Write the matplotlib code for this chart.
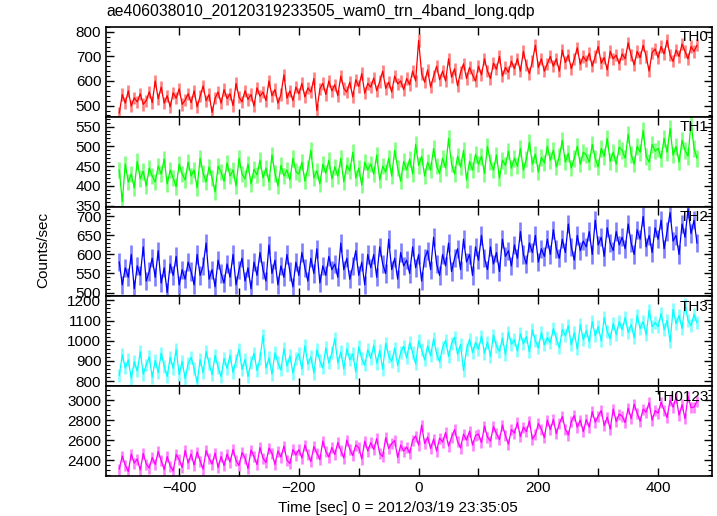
import numpy as np
import matplotlib
matplotlib.use("Agg")
from matplotlib import pyplot as plt
from matplotlib.ticker import MultipleLocator
from matplotlib.colors import to_rgb

plt.rcParams['font.family'] = ['Liberation Sans', 'DejaVu Sans']

# time (sec), 5 s bins from -500 to 465
t = np.arange(-500, 466, 5)

# rates read (roughly) off the light curves, counts/sec, one row = 60 s
th0 = [470, 545, 510, 560, 498, 532, 515, 548, 505, 520, 556, 512,
       600, 528, 575, 510, 540, 495, 552, 530, 568, 505, 522, 548,
       512, 560, 495, 538, 580, 520, 545, 472, 530, 555, 510, 565,
       528, 548, 500, 590, 535, 515, 560, 525, 545, 498, 572, 538,
       555, 520, 600, 540, 565, 510, 545, 625, 530, 560, 520, 575,
       548, 590, 535, 572, 555, 610, 480, 568, 590, 545, 600, 560,
       585, 540, 620, 570, 555, 595, 535, 605, 578, 630, 550, 590,
       575, 612, 560, 598, 640, 570, 595, 555, 620, 588, 600, 565,
       610, 585, 640, 600, 765, 630, 595, 645, 575, 620, 660, 605,
       640, 600, 690, 615, 650, 580, 635, 670, 610, 655, 625, 600,
       660, 625, 690, 640, 610, 672, 648, 700, 620, 655, 635, 680,
       650, 690, 640, 720, 665, 630, 680, 745, 655, 690, 640, 670,
       700, 660, 690, 640, 725, 675, 705, 650, 690, 735, 668, 700,
       680, 712, 660, 700, 740, 672, 695, 645, 720, 690, 705, 670,
       710, 690, 755, 705, 665, 720, 695, 745, 700, 640, 715, 730,
       695, 740, 710, 765, 705, 680, 725, 700, 750, 720, 690, 740,
       720, 745]
th1 = [440, 360, 455, 410, 430, 395, 462, 418, 437, 400, 445, 425,
       410, 450, 430, 468, 405, 440, 420, 398, 455, 430, 415, 460,
       425, 440, 395, 470, 432, 410, 448, 420, 385, 450, 435, 412,
       458, 425, 440, 400, 470, 430, 418, 455, 405, 442, 428, 465,
       420, 445, 410, 478, 432, 400, 452, 425, 440, 415, 470, 436,
       430, 460, 412, 445, 490, 420, 438, 405, 455, 432, 465, 418,
       448, 425, 470, 410, 452, 438, 485, 420, 445, 402, 460, 440,
       455, 430, 478, 415, 450, 435, 470, 425, 490, 445, 412, 462,
       440, 468, 430, 505, 452, 475, 425, 460, 440, 495, 450, 432,
       470, 445, 520, 455, 430, 475, 448, 490, 415, 462, 440, 480,
       455, 475, 432, 500, 460, 440, 478, 420, 465, 452, 488, 445,
       470, 450, 495, 440, 468, 510, 455, 480, 435, 472, 458, 500,
       465, 490, 448, 475, 515, 460, 482, 445, 470, 500, 455, 485,
       478, 460, 505, 470, 448, 495, 475, 520, 462, 485, 455, 498,
       490, 470, 530, 480, 455, 500, 485, 540, 475, 460, 505, 488,
       495, 470, 520, 485, 545, 478, 500, 460, 515, 490, 475, 560,
       495, 470]
th2 = [580, 520, 565, 540, 600, 510, 570, 545, 620, 530, 555, 590,
       540, 610, 525, 565, 500, 575, 545, 595, 520, 560, 535, 580,
       555, 520, 600, 545, 570, 630, 535, 560, 515, 585, 550, 525,
       575, 540, 600, 520, 560, 590, 530, 565, 510, 580, 545, 605,
       560, 530, 625, 550, 585, 520, 570, 540, 600, 555, 515, 580,
       545, 605, 565, 530, 590, 550, 615, 525, 570, 545, 595, 560,
       575, 540, 630, 560, 590, 535, 570, 610, 545, 580, 520, 600,
       565, 600, 540, 620, 575, 550, 640, 560, 590, 535, 605, 570,
       585, 550, 620, 565, 600, 530, 590, 610, 560, 645, 575, 545,
       600, 570, 630, 555, 590, 615, 560, 640, 580, 600, 545, 620,
       585, 650, 590, 560, 620, 575, 605, 555, 640, 595, 610, 570,
       625, 590, 660, 600, 575, 630, 605, 650, 580, 615, 595, 640,
       600, 665, 615, 590, 640, 605, 680, 620, 585, 650, 610, 635,
       620, 660, 600, 690, 625, 645, 595, 670, 630, 610, 660, 625,
       645, 615, 680, 630, 600, 665, 640, 700, 620, 650, 605, 670,
       640, 690, 615, 660, 710, 635, 650, 600, 680, 645, 720, 655,
       690, 630]
th3 = [830, 930, 865, 905, 815, 895, 850, 945, 835, 880, 920, 820,
       903, 843, 938, 873, 823, 918, 863, 958, 833, 898, 813, 888,
       917, 862, 792, 907, 842, 947, 887, 832, 927, 867, 822, 912,
       863, 928, 843, 903, 958, 858, 908, 823, 893, 938, 853, 913,
       1025, 865, 915, 835, 940, 890, 855, 960, 875, 925, 840, 910,
       935, 860, 975, 885, 920, 840, 955, 900, 865, 965, 890, 940,
       1010, 890, 945, 860, 960, 905, 935, 845, 970, 910, 880, 955,
       913, 978, 888, 953, 858, 988, 923, 898, 963, 878, 943, 973,
       915, 990, 940, 885, 1000, 955, 905, 975, 925, 1010, 935, 895,
       967, 1002, 922, 987, 1017, 932, 982, 852, 957, 1007, 942, 992,
       958, 1023, 938, 993, 923, 1028, 973, 948, 1013, 933, 1043, 983,
       1005, 950, 1035, 985, 1020, 945, 1055, 1000, 965, 1040, 980, 1015,
       990, 1060, 1010, 965, 1055, 1025, 1075, 980, 1040, 960, 1080, 1005,
       1050, 995, 1095, 1025, 1070, 1000, 1115, 1045, 1010, 1085, 1030, 1095,
       1055, 1115, 1040, 1080, 1015, 1125, 1060, 1095, 1030, 1150, 1070, 1090,
       1070, 1135, 1055, 1100, 995, 1155, 1085, 1125, 1060, 1180, 1100, 1075,
       1130, 1090]
th0123 = [2310, 2440, 2350, 2285, 2460, 2370, 2410, 2300, 2465, 2360, 2320, 2425,
          2355, 2485, 2395, 2305, 2435, 2340, 2290, 2455, 2405, 2325, 2495, 2370,
          2460, 2350, 2480, 2390, 2310, 2495, 2415, 2360, 2470, 2325, 2435, 2345,
          2460, 2380, 2505, 2395, 2345, 2475, 2420, 2315, 2500, 2435, 2355, 2525,
          2420, 2375, 2520, 2470, 2355, 2490, 2430, 2540, 2400, 2365, 2505, 2450,
          2505, 2420, 2550, 2460, 2385, 2535, 2470, 2405, 2590, 2485, 2430, 2525,
          2455, 2575, 2495, 2420, 2600, 2510, 2445, 2550, 2525, 2410, 2590, 2490,
          2575, 2505, 2615, 2465, 2435, 2625, 2515, 2565, 2595, 2425, 2550, 2490,
          2530, 2470, 2600, 2640, 2550, 2750, 2565, 2630, 2515, 2610, 2490, 2620,
          2580, 2675, 2540, 2630, 2705, 2585, 2520, 2660, 2600, 2690, 2550, 2645,
          2660, 2575, 2740, 2630, 2590, 2735, 2665, 2605, 2750, 2645, 2560, 2705,
          2670, 2775, 2635, 2730, 2685, 2790, 2610, 2655, 2765, 2710, 2625, 2800,
          2705, 2805, 2665, 2765, 2835, 2710, 2650, 2785, 2845, 2730, 2800, 2685,
          2805, 2730, 2885, 2780, 2840, 2895, 2745, 2830, 2710, 2910, 2785, 2860,
          2840, 2775, 2920, 2815, 2960, 2870, 2790, 2910, 2880, 2975, 2800, 2895,
          2870, 2980, 2900, 2825, 3000, 2930, 3030, 2850, 2955, 2815, 3040, 2925,
          2930, 2990]

# typical 1-sigma error of each band
errs = [25, 21, 24, 32, 55]

names = ["TH0", "TH1", "TH2", "TH3", "TH0123"]
rates = [th0, th1, th2, th3, th0123]
colors = ['#ff0000', '#00ff00', '#0000ff', '#00ffff', '#ff00ff']
ylims = [(455, 820), (348, 575), (490, 726), (775, 1220), (2240, 3140)]
majors = [100, 50, 50, 100, 200]
minors = [20, 10, 10, 20, 50]

fig, axes = plt.subplots(5, 1, sharex=True, figsize=(7.17, 5.16), dpi=100)
fig.subplots_adjust(left=0.148, right=0.993, bottom=0.0775, top=0.948, hspace=0)

for i, ax in enumerate(axes):
    c = np.array(to_rgb(colors[i]))
    pale = tuple(c * 0.5 + 0.5)
    y = np.array(rates[i])
    ax.vlines(t, y - errs[i], y + errs[i], color=pale, lw=1.9)
    ax.plot(t, y, color=colors[i], lw=0.9)
    ax.set_ylim(*ylims[i])
    ax.yaxis.set_major_locator(MultipleLocator(majors[i]))
    ax.yaxis.set_minor_locator(MultipleLocator(minors[i]))
    ax.xaxis.set_major_locator(MultipleLocator(100))
    ax.tick_params(which='both', direction='in', top=True, right=True, labelsize=11)
    ax.tick_params(which='major', length=6, width=1)
    ax.tick_params(which='minor', length=3, width=0.8)
    for s in ax.spines.values():
        s.set_linewidth(1.2)
    ax.text(0.995, 0.96, names[i], transform=ax.transAxes, ha='right', va='top', fontsize=11)

axes[-1].set_xlim(-522, 490)
axes[-1].set_xticks([-400, -300, -200, -100, 0, 100, 200, 300, 400])
axes[-1].set_xticklabels(['\u2212400', '', '\u2212200', '', '0', '', '200', '', '400'])

fig.text(0.149, 0.977, "ae406038010_20120319233505_wam0_trn_4band_long.qdp",
         ha='left', va='center', fontsize=11.3)
fig.text(0.06, 0.515, "Counts/sec", rotation=90, ha='center', va='center', fontsize=11)
fig.text(0.555, 0.016, "Time [sec] 0 = 2012/03/19 23:35:05", ha='center', va='center', fontsize=11)

plt.savefig("out.png", dpi=100)
